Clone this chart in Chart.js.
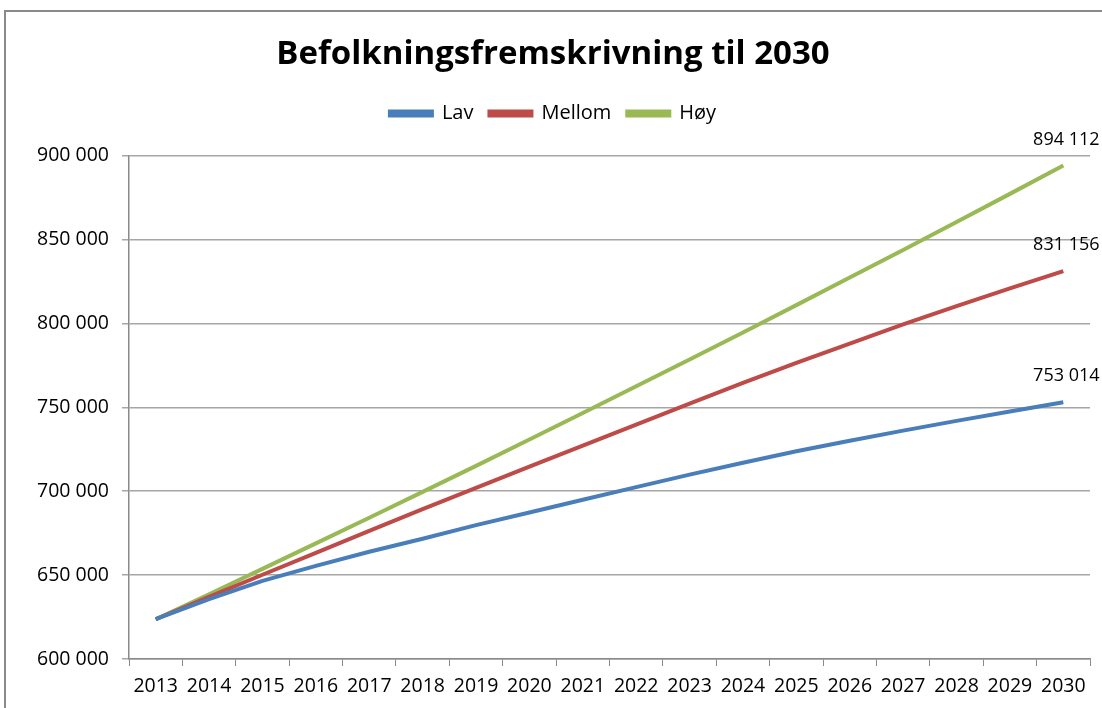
<!DOCTYPE html>
<html>
<head>
<meta charset="utf-8">
<script src="https://cdn.jsdelivr.net/npm/chart.js@4.4.1/dist/chart.umd.min.js"></script>
<style>
  html, body { margin: 0; padding: 0; background: #fff; overflow: hidden; }
  #wrap { position: relative; width: 1102px; height: 708px; }
  #frame { position: absolute; left: 4px; top: 10px; width: 1200px; height: 800px; border: 2px solid #8a8a8a; box-sizing: border-box; }
  canvas { position: absolute; left: 0; top: 0; }
</style>
</head>
<body>
<div id="wrap">
  <div id="frame"></div>
  <canvas id="chart" width="1102" height="708"></canvas>
</div>
<script>
// år
const years = ['2013', '2014', '2015', '2016', '2017', '2018', '2019', '2020', '2021',
               '2022', '2023', '2024', '2025', '2026', '2027', '2028', '2029', '2030'];

// fremskrivning, lest av figuren (siste verdi fra etiketten)
const lav = [623700, 635700, 646600, 655500, 663900, 671700, 679800, 687300, 694900,
             702400, 709900, 717000, 723800, 730100, 736100, 741900, 747500, 753014];
const mellom = [623700, 637000, 650200, 663300, 676400, 689300, 702000, 714600, 727200,
                739700, 752200, 764500, 776500, 788000, 799400, 810300, 820900, 831156];
const hoy = [623700, 638600, 653700, 668900, 684200, 699600, 715100, 730800, 746600,
             762500, 778500, 794600, 810900, 827300, 843800, 860400, 877200, 894112];

const yTicks = [600000, 650000, 700000, 750000, 800000, 850000, 900000];

const FONT = 'Open Sans';

// tall med mellomrom som tusenskille
function fmt(v) {
    return String(Math.round(v)).replace(/\B(?=(\d{3})+(?!\d))/g, ' ');
}

// etikett over siste punkt i hver serie
const endLabels = {
    id: 'endLabels',
    afterInit(chart) {
        // litt ekstra luft under forklaringen
        const fit = chart.legend.fit;
        chart.legend.fit = function () {
            fit.call(this);
            this.height += 22;
        };
    },
    afterDatasetsDraw(chart) {
        const ctx = chart.ctx;
        ctx.save();
        ctx.font = '18px "' + FONT + '"';
        ctx.fillStyle = '#000';
        ctx.textAlign = 'center';
        ctx.textBaseline = 'bottom';
        chart.data.datasets.forEach((ds, i) => {
            const meta = chart.getDatasetMeta(i);
            const last = meta.data[meta.data.length - 1];
            ctx.fillText(fmt(ds.data[ds.data.length - 1]), last.x + 3, last.y - 17);
        });
        ctx.restore();
    }
};

function line(label, data, color) {
    return {
        label: label,
        data: data,
        borderColor: color,
        backgroundColor: color,
        borderWidth: 4,
        pointRadius: 0,
        pointHoverRadius: 0,
        tension: 0,
        fill: false
    };
}

const ctx = document.getElementById('chart').getContext('2d');
new Chart(ctx, {
    type: 'line',
    data: {
        labels: years,
        datasets: [
            line('Lav', lav, '#4a7ebb'),
            line('Mellom', mellom, '#be4b48'),
            line('Høy', hoy, '#98b954')
        ]
    },
    options: {
        responsive: false,
        animation: false,
        devicePixelRatio: 1,
        layout: { padding: { left: 16, right: 12, top: 35, bottom: 0 } },
        plugins: {
            title: {
                display: true,
                text: 'Befolkningsfremskrivning til 2030',
                color: '#000',
                font: { family: FONT, size: 33, weight: 'bold' },
                padding: { top: 0, bottom: 13 }
            },
            legend: {
                display: true,
                labels: {
                    color: '#000',
                    font: { family: FONT, size: 20 },
                    boxWidth: 42,
                    boxHeight: 4,
                    padding: 16
                }
            },
            tooltip: { enabled: false }
        },
        scales: {
            x: {
                offset: true,
                grid: {
                    offset: true,
                    drawOnChartArea: false,
                    drawTicks: true,
                    tickLength: 7,
                    color: '#8a8a8a'
                },
                border: { color: '#8a8a8a', width: 1.5 },
                ticks: {
                    color: '#000',
                    font: { family: FONT, size: 19.5 },
                    maxRotation: 0,
                    autoSkip: false,
                    padding: 9
                },
                afterFit(scale) { scale.height = 49; }
            },
            y: {
                min: 600000,
                max: 900000,
                afterBuildTicks(scale) {
                    scale.ticks = yTicks.map(v => ({ value: v }));
                },
                grid: {
                    color: '#a6a6a6',
                    lineWidth: 1.5,
                    drawTicks: true,
                    tickLength: 7
                },
                border: { color: '#8a8a8a', width: 1.5 },
                ticks: {
                    color: '#000',
                    font: { family: FONT, size: 19.5 },
                    padding: 13,
                    callback: v => fmt(v)
                },
                afterFit(scale) { scale.width = 113; }
            }
        }
    },
    plugins: [endLabels]
});
</script>
</body>
</html>
